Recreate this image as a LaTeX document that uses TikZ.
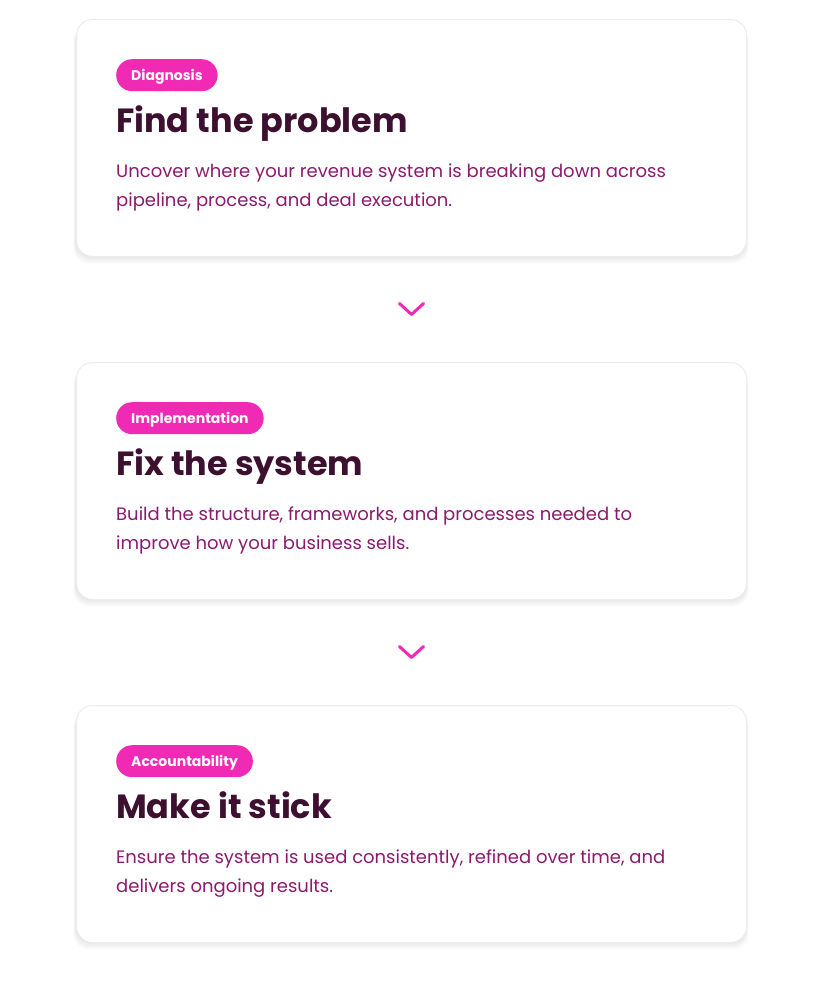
\documentclass[tikz,border=0pt]{standalone}
\usepackage{fontspec}
\setmainfont{Poppins}
\usetikzlibrary{positioning,calc}

\definecolor{badgepink}{RGB}{240,42,180}
\definecolor{titleplum}{RGB}{62,16,48}
\definecolor{bodyplum}{RGB}{140,26,110}
\definecolor{cardline}{RGB}{236,236,236}

\tikzset{
  card/.style={draw=cardline, line width=1pt, fill=white, rounded corners=16pt,
    minimum width=670pt, minimum height=237pt, inner sep=0pt},
  badge/.style={fill=badgepink, text=white, rounded corners=16pt, minimum height=32pt,
    inner xsep=15pt, inner ysep=0pt, text height=10pt, text depth=0pt,
    font=\fontsize{14}{14}\selectfont\bfseries},
  headline/.style={text=titleplum, font=\fontsize{33.5}{33.5}\selectfont\bfseries,
    anchor=base west, inner sep=0pt},
  blurb/.style={text=bodyplum, font=\fontsize{18}{18}\selectfont,
    anchor=base west, inner sep=0pt},
  chevron/.style={draw=badgepink, line width=3pt, line cap=round, line join=round},
}

% #1 name, #2 top, #3 badge, #4 title, #5 first line, #6 second line
\newcommand\stepcard[6]{
  \foreach \s in {1,...,8}
    \fill[black, opacity=.012, rounded corners=16pt] (76-\s/3,#2+6) rectangle (746+\s/3,#2+237+\s);
  \node[card, anchor=north west] (#1) at (76,#2) {};
  \node[badge, below right=40pt and 40pt of #1.north west] (#1b) {#3};
  \node[headline] (#1t) at ([shift={(40,113)}]#1.north west) {#4};
  \node[blurb] (#1x) at ([shift={(40,158)}]#1.north west) {#5};
  \node[blurb] (#1y) at ([shift={(40,187)}]#1.north west) {#6};
}

\begin{document}
\begin{tikzpicture}[x=1pt, y=-1pt]
\fill[white] (0,0) rectangle (814,998);
\useasboundingbox (0,0) rectangle (814,998);

\stepcard{cA}{19}{Diagnosis}{Find the problem}
  {Uncover where your revenue system is breaking down across}
  {pipeline, process, and deal execution.}

\stepcard{cB}{362}{Implementation}{Fix the system}
  {Build the structure, frameworks, and processes needed to}
  {improve how your business sells.}

\stepcard{cC}{705}{Accountability}{Make it stick}
  {Ensure the system is used consistently, refined over time, and}
  {delivers ongoing results.}

\coordinate (vA) at ($(cA.south)!.5!(cB.north)$);
\coordinate (vB) at ($(cB.south)!.5!(cC.north)$);

\foreach \v in {vA,vB}
  \draw[chevron] ([shift={(-12,-6)}]\v) -- ([shift={(0,5)}]\v) -- ([shift={(12,-6)}]\v);

\end{tikzpicture}
\end{document}
